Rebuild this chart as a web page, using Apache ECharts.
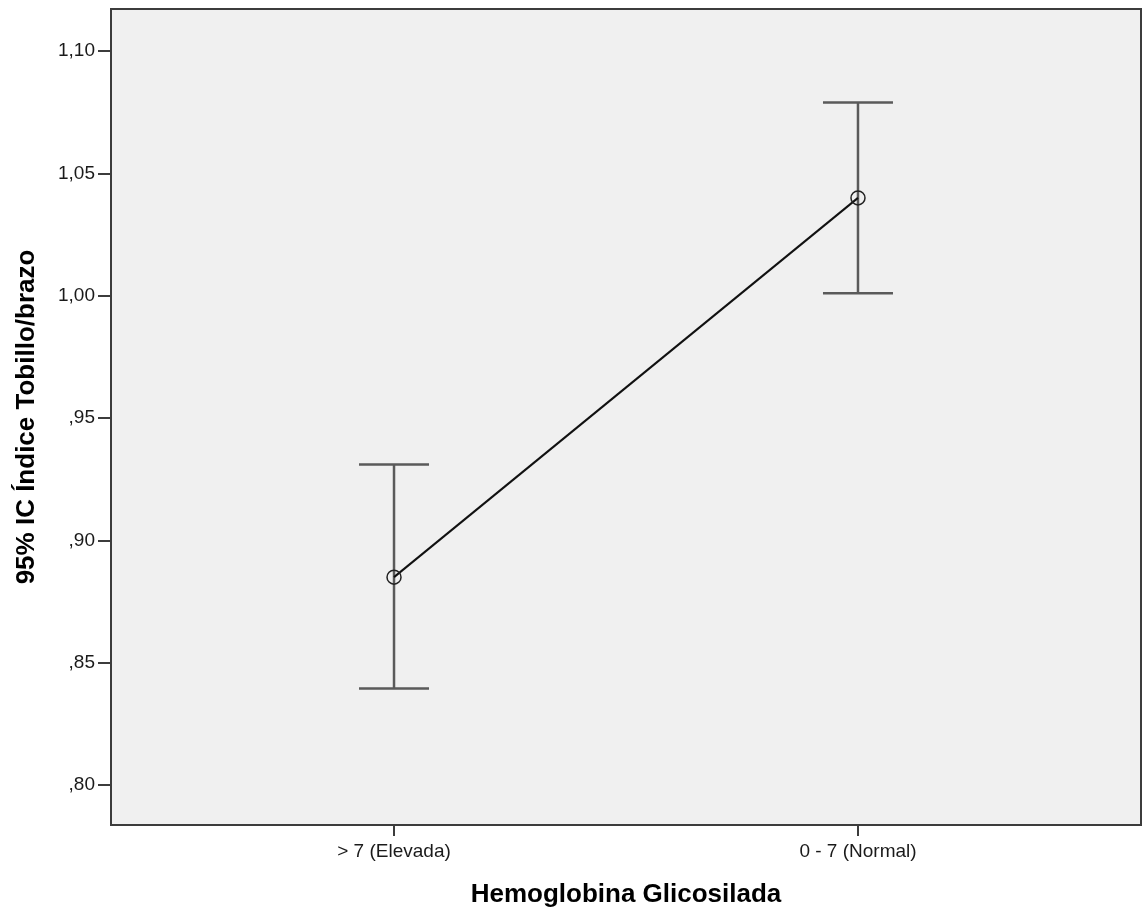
<!DOCTYPE html>
<html>
<head>
<meta charset="utf-8">
<script src="https://cdn.jsdelivr.net/npm/echarts@6/dist/echarts.min.js"></script>
<style>
  html, body { margin: 0; padding: 0; background: #fff; }
  #main { width: 1144px; height: 910px; }
</style>
</head>
<body>
<div id="main"></div>
<script>
// categories on x, kept at positions 0 and 1
const categories = ['> 7 (Elevada)', '0 - 7 (Normal)']
const means = [0.885, 1.040]
const lower95 = [0.8395, 1.001]
const upper95 = [0.931, 1.079]
const yTicks = [0.80, 0.85, 0.90, 0.95, 1.00, 1.05, 1.10]

const fmtY = (v) => {
  let s = v.toFixed(2).replace('.', ',')
  if (s.indexOf('0,') === 0) s = s.slice(1)
  return s
}

const myChart = echarts.init(document.getElementById('main'))

const errData = categories.map((c, i) => [i, lower95[i], upper95[i]])
const meanData = categories.map((c, i) => [i, means[i]])

myChart.setOption({
  animation: false,
  grid: {
    left: 111,
    right: 3,
    top: 9,
    bottom: 85,
    outerBoundsMode: 'none',
    containLabel: false,
    show: true,
    backgroundColor: '#f0f0f0',
    borderColor: '#3c3c3c',
    borderWidth: 2
  },
  xAxis: {
    type: 'value',
    min: -0.61,
    max: 1.61,
    name: 'Hemoglobina Glicosilada',
    nameLocation: 'middle',
    nameGap: 57,
    nameTextStyle: {
      fontFamily: 'Liberation Sans',
      fontWeight: 'bold',
      fontSize: 26,
      color: '#000'
    },
    axisLine: { show: true, onZero: false, lineStyle: { color: '#3c3c3c', width: 2 } },
    axisTick: {
      show: true,
      length: 11,
      customValues: [0, 1],
      lineStyle: { color: '#3c3c3c', width: 2 }
    },
    axisLabel: {
      customValues: [0, 1],
      margin: 17,
      fontFamily: 'Liberation Sans',
      fontSize: 19,
      color: '#1a1a1a',
      formatter: (v) => categories[Math.round(v)]
    },
    splitLine: { show: false }
  },
  yAxis: {
    type: 'value',
    min: 0.7837,
    max: 1.1172,
    name: '95% IC Índice Tobillo/brazo',
    nameLocation: 'middle',
    nameGap: 71,
    nameTextStyle: {
      fontFamily: 'Liberation Sans',
      fontWeight: 'bold',
      fontSize: 26,
      color: '#000'
    },
    axisLine: { show: true, onZero: false, lineStyle: { color: '#3c3c3c', width: 2 } },
    axisTick: {
      show: true,
      length: 13,
      customValues: yTicks,
      lineStyle: { color: '#3c3c3c', width: 2 }
    },
    axisLabel: {
      customValues: yTicks,
      margin: 16,
      fontFamily: 'Liberation Sans',
      fontSize: 19,
      color: '#1a1a1a',
      formatter: fmtY
    },
    splitLine: { show: false }
  },
  series: [
    {
      type: 'custom',
      name: 'IC 95%',
      data: errData,
      encode: { x: 0, y: [1, 2] },
      renderItem: (params, api) => {
        const x = api.value(0)
        const lo = api.coord([x, api.value(1)])
        const hi = api.coord([x, api.value(2)])
        const half = 35
        const style = { stroke: '#5a5a5a', lineWidth: 2.5 }
        return {
          type: 'group',
          children: [
            { type: 'line', shape: { x1: lo[0], y1: lo[1], x2: hi[0], y2: hi[1] }, style },
            { type: 'line', shape: { x1: hi[0] - half, y1: hi[1], x2: hi[0] + half, y2: hi[1] }, style },
            { type: 'line', shape: { x1: lo[0] - half, y1: lo[1], x2: lo[0] + half, y2: lo[1] }, style }
          ]
        }
      }
    },
    {
      type: 'line',
      name: 'Media',
      data: meanData,
      symbol: 'circle',
      symbolSize: 14,
      lineStyle: { color: '#111', width: 2 },
      itemStyle: { color: 'rgba(0,0,0,0)', borderColor: '#222', borderWidth: 1.5 }
    }
  ]
})
</script>
</body>
</html>
